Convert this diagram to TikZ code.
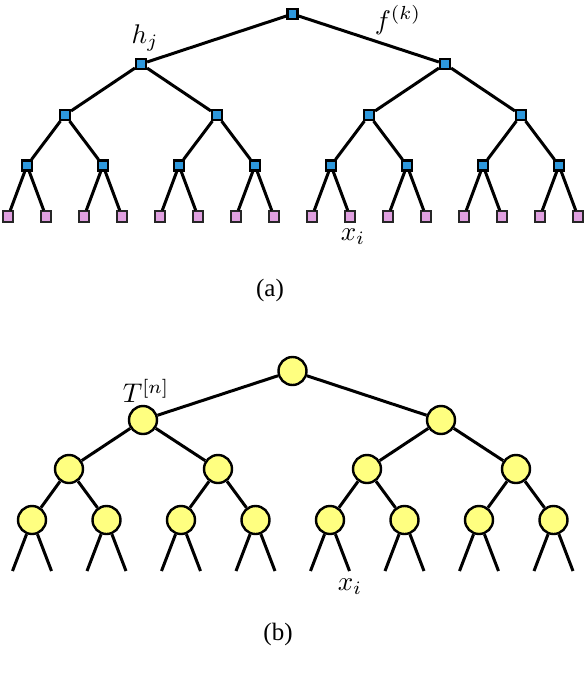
\documentclass[tikz,border=0pt]{standalone}
\usepackage{fontspec}
\setmainfont{Liberation Serif}
\begin{document}
\begin{tikzpicture}[x=1pt,y=-1pt,
  edge/.style={line width=3pt,black},
  innode/.style={draw=black,line width=2.2pt,fill=blueA,minimum size=10pt,inner sep=0pt,rectangle},
  leafnode/.style={draw=black!85,line width=1.8pt,fill=pinkA,minimum size=10.5pt,inner sep=0pt,rectangle},
  ball/.style={circle,draw=black,line width=2.4pt,fill=yellowA,minimum size=28pt,inner sep=0pt},
  lab/.style={scale=2.7,transform shape,inner sep=0pt},
  captxt/.style={font=\fontsize{25}{30}\selectfont,inner sep=0pt}]
\definecolor{blueA}{HTML}{2E98DC}
\definecolor{pinkA}{HTML}{E0A0E0}
\definecolor{yellowA}{HTML}{FFFF80}
\useasboundingbox (0,0) rectangle (586,686);
% ---------- panel (a) ----------
\node[innode] (a0-0) at (292.5,14) {};
\foreach \i in {0,1} \node[innode] (a1-\i) at ({141+304*\i},64) {};
\foreach \i in {0,...,3} \node[innode] (a2-\i) at ({65+152*\i},115) {};
\foreach \i in {0,...,7} \node[innode] (a3-\i) at ({27+76*\i},165.5) {};
\foreach \i in {0,...,15} \node[leafnode] (a4-\i) at ({8+38*\i},216.5) {};
\foreach \i in {0,1} \draw[edge] (a0-0) -- (a1-\i);
\foreach \i in {0,...,3} {\pgfmathtruncatemacro\p{\i/2}\draw[edge] (a1-\p) -- (a2-\i);}
\foreach \i in {0,...,7} {\pgfmathtruncatemacro\p{\i/2}\draw[edge] (a2-\p) -- (a3-\i);}
\foreach \i in {0,...,15} {\pgfmathtruncatemacro\p{\i/2}\draw[edge] (a3-\p) -- (a4-\i);}
\node[lab] (hj) at (145,38) {$h_j$};
\node[lab] (fk) at (398,20) {$f^{(k)}$};
\node[lab] (xa) at (353,237) {$x_i$};
\node[captxt] (capa) at (270,290) {(a)};
% ---------- panel (b) ----------
\node[ball] (b0-0) at (292.5,371) {};
\foreach \i in {0,1} \node[ball] (b1-\i) at ({143+298*\i},420) {};
\foreach \i in {0,...,3} \node[ball] (b2-\i) at ({69+149*\i},469) {};
\foreach \i in {0,...,7} \node[ball] (b3-\i) at ({32+74.5*\i},520) {};
\foreach \i in {0,...,7} {
  \coordinate (e\i-l) at ({32+74.5*\i-19.5},571);
  \coordinate (e\i-r) at ({32+74.5*\i+19.5},571);}
\foreach \i in {0,1} \draw[edge] (b0-0) -- (b1-\i);
\foreach \i in {0,...,3} {\pgfmathtruncatemacro\p{\i/2}\draw[edge] (b1-\p) -- (b2-\i);}
\foreach \i in {0,...,7} {\pgfmathtruncatemacro\p{\i/2}\draw[edge] (b2-\p) -- (b3-\i);}
\foreach \i in {0,...,7} {\draw[edge] (b3-\i) -- (e\i-l); \draw[edge] (b3-\i) -- (e\i-r);}
\node[lab] (tn) at (146,391) {$T^{[n]}$};
\node[lab] (xb) at (350,587) {$x_i$};
\node[captxt] (capb) at (278,634) {(b)};
\end{tikzpicture}
\end{document}
